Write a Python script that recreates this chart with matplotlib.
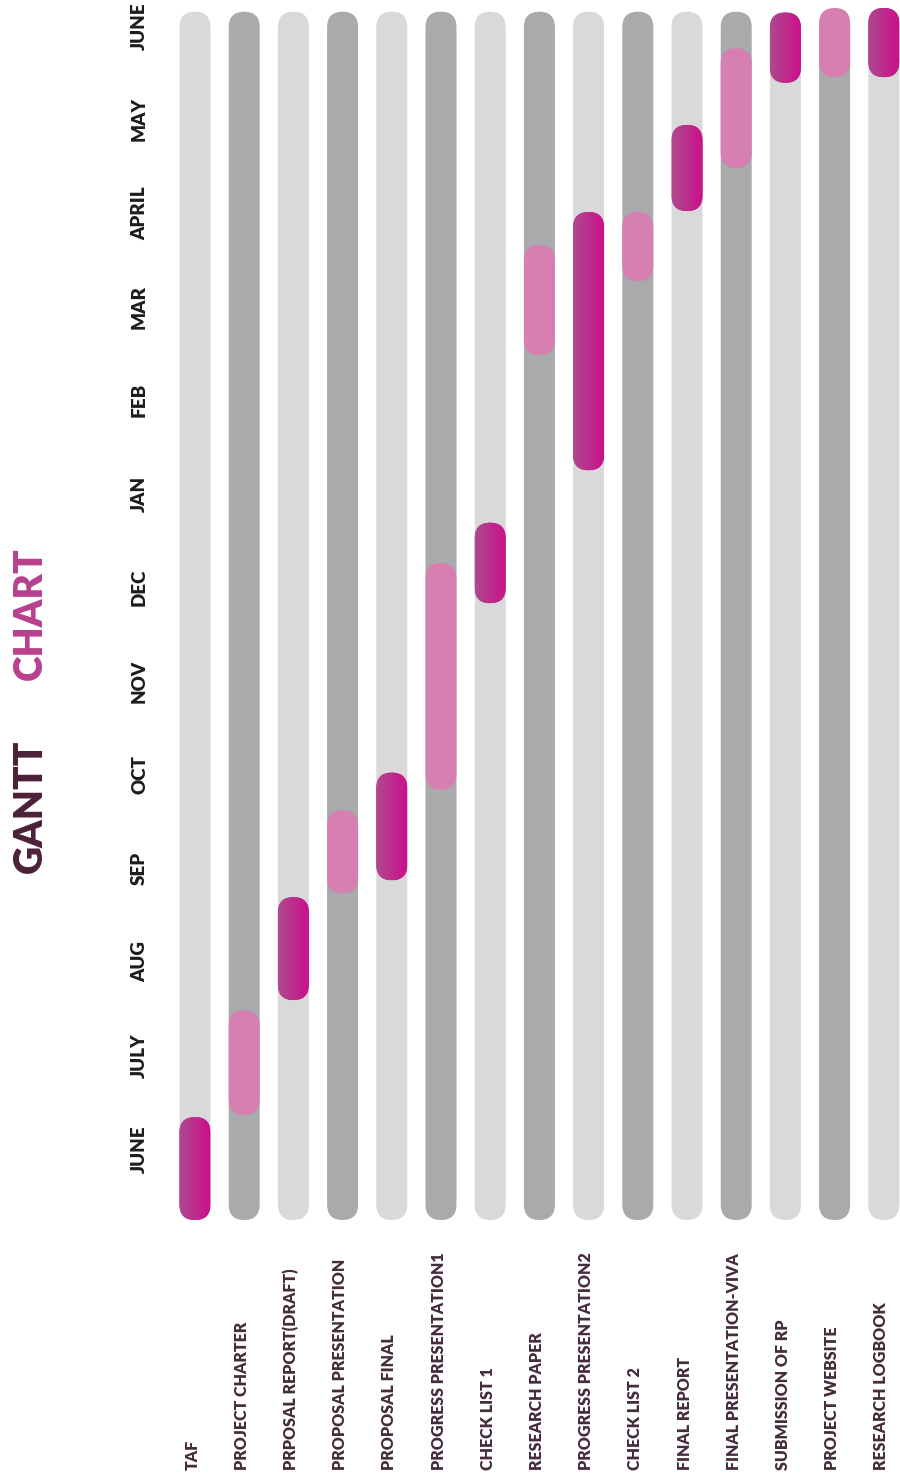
import matplotlib
matplotlib.use('Agg')
import matplotlib.pyplot as plt
import matplotlib.transforms as mtransforms
import numpy as np
from matplotlib.patches import FancyBboxPatch
from matplotlib.colors import LinearSegmentedColormap

# tasks shown as columns, months run bottom to top
tasks = ['TAF', 'PROJECT CHARTER', 'PRPOSAL REPORT(DRAFT)', 'PROPOSAL PRESENTATION',
         'PROPOSAL FINAL', 'PROGRESS PRESENTATION1', 'CHECK LIST 1', 'RESEARCH PAPER',
         'PROGRESS PRESENTATION2', 'CHECK LIST 2', 'FINAL REPORT', 'FINAL PRESENTATION-VIVA',
         'SUBMISSION OF RP', 'PROJECT WEBSITE', 'RESEARCH LOGBOOK']
months = ['JUNE', 'JULY', 'AUG', 'SEP', 'OCT', 'NOV', 'DEC', 'JAN', 'FEB', 'MAR', 'APRIL', 'MAY', 'JUNE']

# start / end of each task in month units (0 = first JUNE)
starts = [-0.76, 0.36, 1.59, 2.73, 2.87, 3.84, 5.83, 8.48, 7.25, 9.27, 10.02, 10.48, 11.39, 11.45, 11.45]
ends = [0.34, 1.48, 2.69, 3.62, 4.02, 6.26, 6.69, 9.66, 10.01, 10.01, 10.94, 11.76, 12.14, 12.19, 12.19]
track_start, track_end = -0.76, 12.15

light_track = '#d9d9d9'
dark_track = '#a8aaab'
pink = '#d580b1'
magenta_cmap = LinearSegmentedColormap.from_list('mg', ['#ad4a90', '#cc108a'])

fig = plt.figure(figsize=(9, 14.79), dpi=100)
ax = fig.add_axes([0, 0, 1, 1])

bar_w = 0.63            # in task units
aspect = 49.2 / 93.6    # px per task unit / px per month unit
r = bar_w / 2


def capsule(x, y0, y1, color, z):
    p = FancyBboxPatch((x - bar_w / 2, y0), bar_w, y1 - y0,
                       boxstyle='round,pad=0,rounding_size=%f' % r,
                       mutation_aspect=aspect, facecolor=color,
                       edgecolor='none', zorder=z)
    ax.add_patch(p)
    return p


for i in range(len(tasks)):
    track_col = light_track if i % 2 == 0 else dark_track
    capsule(i, track_start, track_end, track_col, 1)
    if i % 2 == 0:
        p = capsule(i, starts[i], ends[i], '#bd2d8c', 2)
        grad = np.linspace(0, 1, 64).reshape(1, -1)
        im = ax.imshow(grad, cmap=magenta_cmap, aspect='auto', zorder=3,
                       extent=[i - bar_w / 2, i + bar_w / 2, starts[i], ends[i]])
        im.set_clip_path(p)
    else:
        capsule(i, starts[i], ends[i], pink, 2)

ax.set_xlim(-3.963, 14.329)
ax.set_ylim(-3.527, 12.275)
ax.axis('off')

# month labels
trans = mtransforms.blended_transform_factory(ax.transAxes, ax.transData)
for m, name in enumerate(months):
    ax.text(0.155, m, name, transform=trans, rotation=90, ha='center', va='center',
            fontsize=13.5, fontweight='heavy', family='Lato', color='#1c1c1c')

# task labels
trans2 = mtransforms.blended_transform_factory(ax.transData, ax.transAxes)
for i, name in enumerate(tasks):
    ax.text(i - 0.05, 0.006, name, transform=trans2, rotation=90, ha='center', va='bottom',
            fontsize=11.5, fontweight='heavy', family='Lato', color='#452c3d')

# title
fig.text(0.034, 1 - 873 / 1479, 'GANTT', rotation=90, ha='center', va='bottom',
         fontsize=28, fontweight='heavy', family='Lato', color='#4b2038')
fig.text(0.034, 1 - 680 / 1479, 'CHART', rotation=90, ha='center', va='bottom',
         fontsize=28, fontweight='heavy', family='Lato', color='#b8408e')

fig.savefig('out.png', dpi=100, facecolor='white')
